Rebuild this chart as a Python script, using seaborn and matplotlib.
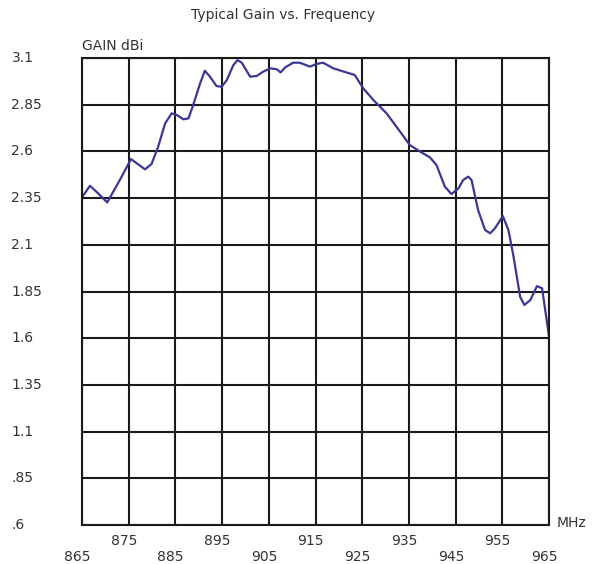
import matplotlib
matplotlib.use('Agg')
import matplotlib.pyplot as plt
import seaborn as sns
import pandas as pd

# traced curve: frequency (MHz) and gain (dBi)
freq = [865.1, 866.7, 868.1, 870.4, 873.1, 875.5, 878.5, 879.9, 881.3, 882.8,
        884.2, 885.3, 886.7, 887.8, 888.8, 890.3, 891.3, 892.4, 893.8, 894.9,
        896.0, 897.4, 898.3, 899.2, 901.0, 902.4, 903.8, 905.3, 906.7, 907.5,
        908.5, 910.2, 911.6, 913.8, 915.2, 916.6, 918.8, 921.6, 923.4, 925.2,
        927.4, 930.2, 933.1, 935.2, 937.4, 939.5, 940.9, 942.7, 944.1, 945.6,
        946.6, 947.7, 948.4, 949.8, 951.3, 952.4, 953.4, 955.1, 956.3, 957.4,
        958.8, 959.7, 961.0, 962.4, 963.5, 965.0]
gain = [2.358, 2.416, 2.384, 2.327, 2.447, 2.559, 2.504, 2.533, 2.625, 2.750,
        2.804, 2.795, 2.772, 2.777, 2.848, 2.965, 3.032, 3.000, 2.950, 2.946,
        2.982, 3.062, 3.089, 3.075, 3.000, 3.004, 3.027, 3.045, 3.040, 3.023,
        3.050, 3.075, 3.075, 3.054, 3.068, 3.075, 3.045, 3.023, 3.009, 2.938,
        2.875, 2.804, 2.706, 2.634, 2.599, 2.568, 2.527, 2.411, 2.372, 2.402,
        2.447, 2.465, 2.447, 2.286, 2.179, 2.162, 2.188, 2.254, 2.179, 2.036,
        1.822, 1.778, 1.805, 1.879, 1.867, 1.608]

x_ticks = [865, 875, 885, 895, 905, 915, 925, 935, 945, 955, 965]
y_ticks = [3.1, 2.85, 2.6, 2.35, 2.1, 1.85, 1.6, 1.35, 1.1, 0.85, 0.6]
y_labels = ['3.1', '2.85', '2.6', '2.35', '2.1', '1.85', '1.6', '1.35', '1.1', '.85', '.6']

df = pd.DataFrame({'freq': freq, 'gain': gain})

sns.set_style('white')
plt.rcParams['font.family'] = ['DejaVu Sans']
txt_color = '#333333'
fs = 10

fig = plt.figure(figsize=(5.92, 5.64), dpi=100)
ax = fig.add_axes([0.1385, 0.0691, 0.789, 0.828])

sns.lineplot(data=df, x='freq', y='gain', color='#3a3896', linewidth=1.6, ax=ax)

ax.set_xlim(865, 965)
ax.set_ylim(0.6, 3.1)
ax.set_xticks(x_ticks)
ax.set_yticks(y_ticks)
ax.set_xticklabels([])
ax.set_yticklabels([])
ax.tick_params(length=0)
ax.grid(True, color='#1a1a1a', linewidth=1.5)
for s in ax.spines.values():
    s.set_color('#1a1a1a')
    s.set_linewidth(1.5)
ax.set_xlabel('')
ax.set_ylabel('')

# y labels, left aligned
for v, lab in zip(y_ticks, y_labels):
    ax.text(-0.151, v, lab, transform=ax.get_yaxis_transform(), ha='left', va='center',
            fontsize=fs, color=txt_color)

# staggered x labels
for i, f in enumerate(x_ticks):
    yy = -0.069 if i % 2 == 0 else -0.034
    ax.text(f - 1, yy, str(f), transform=ax.get_xaxis_transform(), ha='center', va='center',
            fontsize=fs, color=txt_color)

ax.text(1.017, 0.004, 'MHz', transform=ax.transAxes, ha='left', va='center',
        fontsize=fs, color=txt_color)
ax.text(0.0, 1.026, 'GAIN dBi', transform=ax.transAxes, ha='left', va='center',
        fontsize=fs, color=txt_color)
fig.text(0.478, 0.973, 'Typical Gain vs. Frequency', ha='center', va='center',
         fontsize=fs, color=txt_color)

fig.savefig('out.png', dpi=100)
